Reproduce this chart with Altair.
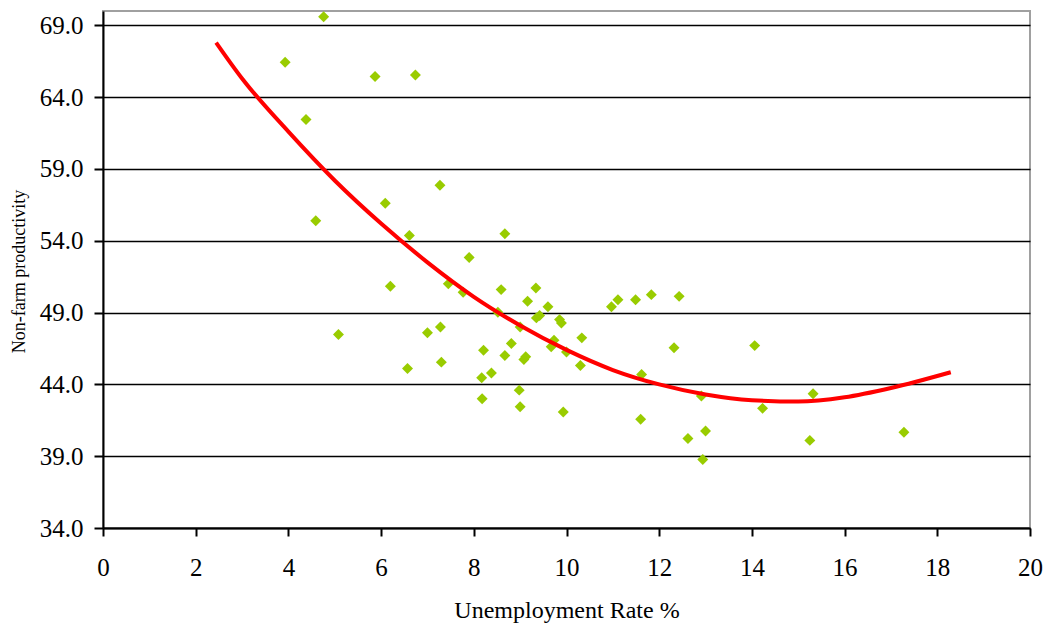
import altair as alt
import pandas as pd

# Scatter data: unemployment rate (%) vs non-farm productivity
unemp = [3.93, 4.38, 4.59, 4.76, 5.08, 5.87, 6.09, 6.20, 6.57, 6.61, 6.74, 7.00,
         7.27, 7.28, 7.30, 7.45, 7.77, 7.90, 8.17, 8.18, 8.21, 8.38, 8.52, 8.59,
         8.67, 8.67, 8.81, 8.98, 9.00, 9.00, 9.08, 9.12, 9.16, 9.34, 9.35, 9.42,
         9.60, 9.67, 9.73, 9.85, 9.89, 9.93, 10.00, 10.30, 10.33, 10.97, 11.11,
         11.49, 11.60, 11.62, 11.83, 12.32, 12.43, 12.62, 12.91, 12.94, 13.00,
         14.06, 14.23, 15.25, 15.32, 17.28]
prod = [66.43, 62.45, 55.39, 69.60, 47.47, 65.44, 56.62, 50.83, 45.11, 54.37, 65.55, 47.60,
        57.87, 48.00, 45.55, 51.00, 50.41, 52.84, 44.46, 43.00, 46.38, 44.80, 49.02, 50.60,
        54.49, 46.01, 46.85, 43.60, 42.45, 48.00, 45.74, 45.92, 49.79, 50.71, 48.63, 48.79,
        49.40, 46.62, 47.08, 48.51, 48.28, 42.08, 46.25, 45.32, 47.24, 49.40, 49.90,
        49.90, 41.57, 44.69, 50.25, 46.55, 50.13, 40.23, 43.19, 38.77, 40.76,
        46.70, 42.33, 40.10, 43.35, 40.67]

# Trend curve
curve_x = [2.44, 3.0, 4.0, 5.0, 6.0, 7.0, 8.0, 9.0, 10.0, 11.0, 12.0, 13.0,
           14.0, 15.0, 16.0, 17.0, 18.29]
curve_y = [67.8, 65.3, 61.6, 58.2, 55.2, 52.5, 50.1, 48.1, 46.4, 45.0, 44.0, 43.3,
           42.9, 42.8, 43.1, 43.75, 44.85]

x_ticks = [0, 2, 4, 6, 8, 10, 12, 14, 16, 18, 20]
y_ticks = [34, 39, 44, 49, 54, 59, 64, 69]

pts = pd.DataFrame({"u": unemp, "p": prod})
crv = pd.DataFrame({"u": curve_x, "p": curve_y})

FONT = "Liberation Serif"

xscale = alt.Scale(domain=[0, 20], nice=False, zero=False)
yscale = alt.Scale(domain=[34, 70], nice=False, zero=False)

xaxis = alt.Axis(
    title="Unemployment Rate %", values=x_ticks, grid=False,
    domainColor="black", domainWidth=2, tickColor="black", tickWidth=2, tickSize=8,
    labelFont=FONT, labelFontSize=25, labelColor="black", labelPadding=39,
    labelBaseline="alphabetic", labelFlush=False, labelOverlap=False,
    titleFont=FONT, titleFontSize=24, titleFontWeight="normal", titleColor="black",
    titleY=89, titleBaseline="alphabetic",
)
yaxis = alt.Axis(
    title="Non-farm productivity", values=y_ticks, format=".1f",
    grid=True, gridColor="black", gridWidth=1.6,
    domainColor="black", domainWidth=2, tickColor="black", tickWidth=2, tickSize=9,
    labelFont=FONT, labelFontSize=25, labelColor="black", labelPadding=11,
    labelFlush=False, labelOverlap=False,
    titleFont=FONT, titleFontSize=18, titleFontWeight="normal", titleColor="black",
    titleAngle=270, titleX=-79, titleY=260, titleAlign="center", titleBaseline="alphabetic",
)

points = alt.Chart(pts).mark_point(
    shape="diamond", filled=True, size=120, color="#99cc00", opacity=1, strokeWidth=0
).encode(
    x=alt.X("u:Q", scale=xscale, axis=xaxis),
    y=alt.Y("p:Q", scale=yscale, axis=yaxis),
)

line = alt.Chart(crv).mark_line(
    color="#ff0000", strokeWidth=4, interpolate="monotone"
).encode(
    x=alt.X("u:Q", scale=xscale),
    y=alt.Y("p:Q", scale=yscale),
)

chart = alt.layer(points, line).properties(
    width=927, height=517,
    autosize=alt.AutoSizeParams(type="none"),
    padding={"left": 103, "top": 11, "right": 15, "bottom": 95},
    background="white",
).configure_view(stroke="#a0a0a0", strokeWidth=2)

chart.save("out.html", embed_options={"renderer": "svg", "actions": False})
